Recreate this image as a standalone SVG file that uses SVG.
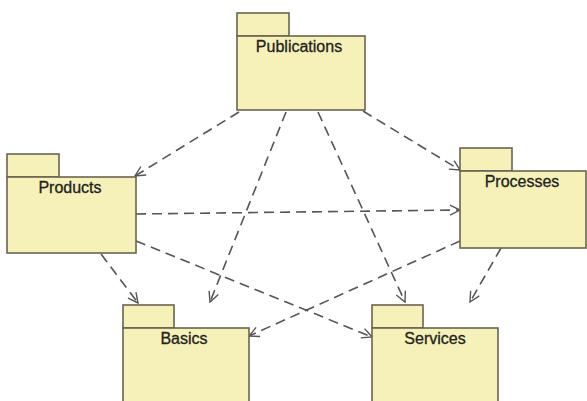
<svg xmlns="http://www.w3.org/2000/svg" width="587" height="401" viewBox="0 0 587 401">
<defs>
<marker id="open" viewBox="0 0 12 12" refX="11" refY="6" markerWidth="12" markerHeight="12" markerUnits="userSpaceOnUse" orient="auto">
<path d="M1,1 L11,6 L1,11" fill="none" stroke="#555" stroke-width="1.4"/>
</marker>
<style>
.pk{fill:#f6f1b8;stroke:#6a6450;stroke-width:1.6}
.lb{font-family:"Liberation Sans",Arial,sans-serif;font-size:16px;fill:#222;stroke:#222;stroke-width:0.3;text-anchor:middle}
.dep{fill:none;stroke:#555;stroke-width:1.6;stroke-dasharray:10 6;marker-end:url(#open)}
</style>
</defs>
<rect width="587" height="401" fill="#fff"/>
<g id="connectors">
<line class="dep" x1="239" y1="112" x2="135" y2="176"/>
<line class="dep" x1="286" y1="112" x2="210" y2="302"/>
<line class="dep" x1="318" y1="112" x2="405" y2="302"/>
<line class="dep" x1="363" y1="111" x2="460" y2="170"/>
<line class="dep" x1="136" y1="214" x2="460" y2="210"/>
<line class="dep" x1="101" y1="254" x2="138" y2="303"/>
<line class="dep" x1="136" y1="241" x2="372" y2="337"/>
<line class="dep" x1="460" y1="241" x2="249" y2="336"/>
<line class="dep" x1="501" y1="248" x2="470" y2="302"/>
</g>
<g id="publications">
<rect class="pk" x="237" y="13" width="52" height="23"/>
<rect class="pk" x="237" y="36" width="128" height="74"/>
<text class="lb" x="299" y="52">Publications</text>
</g>
<g id="products">
<rect class="pk" x="7" y="154" width="52" height="23"/>
<rect class="pk" x="7" y="177" width="129" height="76"/>
<text class="lb" x="70" y="193">Products</text>
</g>
<g id="processes">
<rect class="pk" x="460" y="148" width="52" height="23"/>
<rect class="pk" x="460" y="171" width="126" height="77"/>
<text class="lb" x="522" y="187">Processes</text>
</g>
<g id="basics">
<rect class="pk" x="123" y="305" width="51" height="23"/>
<rect class="pk" x="123" y="328" width="126" height="80"/>
<text class="lb" x="184" y="344">Basics</text>
</g>
<g id="services">
<rect class="pk" x="372" y="305" width="51" height="23"/>
<rect class="pk" x="372" y="328" width="126" height="80"/>
<text class="lb" x="435" y="344">Services</text>
</g>
</svg>
